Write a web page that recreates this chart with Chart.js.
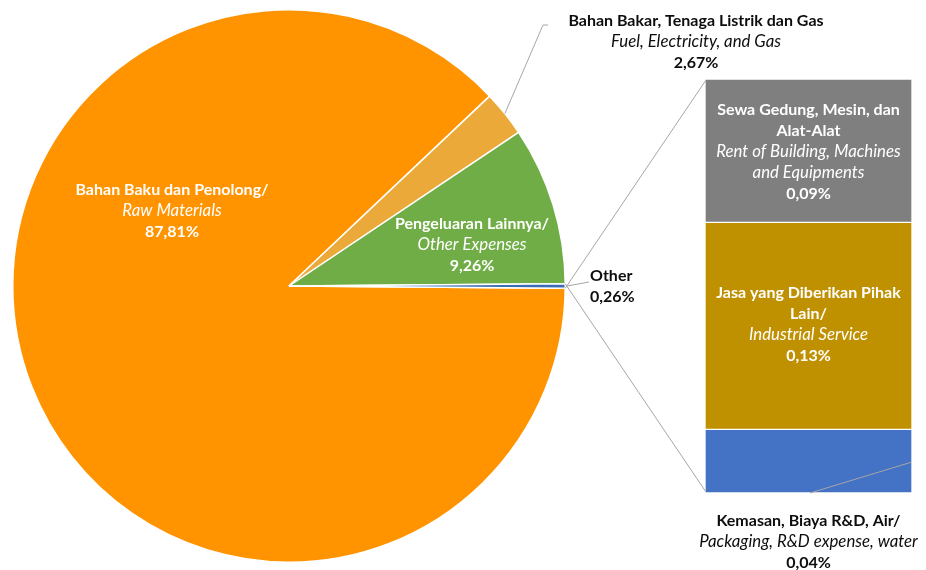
<!DOCTYPE html>
<html>
<head>
<meta charset="utf-8">
<script src="https://cdn.jsdelivr.net/npm/chart.js@4"></script>
<style>
  html, body { margin: 0; padding: 0; background: #ffffff; }
  #wrap { position: relative; width: 926px; height: 570px; overflow: hidden; }
  #barBox { position: absolute; left: 705px; top: 79px; width: 207px; height: 414px; z-index: 1; }
  #pieBox { position: absolute; left: 0; top: 0; width: 926px; height: 570px; z-index: 2; }
</style>
</head>
<body>
<div id="wrap">
  <div id="barBox"><canvas id="bar" width="207" height="414"></canvas></div>
  <div id="pieBox"><canvas id="pie" width="926" height="570"></canvas></div>
</div>
<script>
// ---- data ----
const pieCategories = ["Bahan Baku dan Penolong/ Raw Materials", "Bahan Bakar, Tenaga Listrik dan Gas / Fuel, Electricity, and Gas", "Pengeluaran Lainnya/ Other Expenses", "Other"];
const pieValues = [87.81, 2.67, 9.26, 0.26];
const pieColors = ["#FF9400", "#EBA93A", "#70AD47", "#3A6BB5"];

const barCategories = ["Kemasan, Biaya R&D, Air/ Packaging, R&D expense, water", "Jasa yang Diberikan Pihak Lain/ Industrial Service", "Sewa Gedung, Mesin, dan Alat-Alat / Rent of Building, Machines and Equipments"];
const barValues = [0.04, 0.13, 0.09];
const barColors = ["#4472C4", "#BF9000", "#7F7F7F"];

const pieLabelText = [
  ["Bahan Baku dan Penolong/", "Raw Materials", "87,81%"],
  ["Bahan Bakar, Tenaga Listrik dan Gas", "Fuel, Electricity, and Gas", "2,67%"],
  ["Pengeluaran Lainnya/", "Other Expenses", "9,26%"],
  ["Other", "0,26%"]
];
const barLabelText = [
  ["Kemasan, Biaya R&D, Air/", "Packaging, R&D expense, water", "0,04%"],
  ["Jasa yang Diberikan Pihak", "Lain/", "Industrial Service", "0,13%"],
  ["Sewa Gedung, Mesin, dan", "Alat-Alat", "Rent of Building, Machines", "and Equipments", "0,09%"]
];
const pieItalic = [[1], [1], [1], []];
const barItalic = [[1], [2], [2, 3]];

const FONT = "Lato, 'Open Sans', sans-serif";
const FS = 16;
const FS_IT = 16.8;
const LH = 21;

// ---- bar chart ----
const barChart = new Chart(document.getElementById('bar'), {
  type: 'bar',
  data: {
    labels: [''],
    datasets: barValues.map((v, i) => ({
      label: barCategories[i],
      data: [v],
      backgroundColor: barColors[i],
      borderColor: '#ffffff',
      borderWidth: 1,
      borderSkipped: false,
      barPercentage: 1,
      categoryPercentage: 1
    }))
  },
  options: {
    responsive: false,
    animation: false,
    layout: { padding: 0 },
    plugins: { legend: { display: false }, tooltip: { enabled: false } },
    scales: {
      x: { stacked: true, display: false },
      y: { stacked: true, display: false, min: 0, max: 0.26 }
    }
  }
});

// ---- helpers ----
function drawLines(ctx, lines, italicIdx, cx, y0, color, align) {
  ctx.fillStyle = color;
  ctx.textAlign = align || 'center';
  ctx.textBaseline = 'middle';
  lines.forEach((t, i) => {
    const it = italicIdx.includes(i);
    ctx.font = it ? ('italic 400 ' + FS_IT + 'px ' + FONT) : ('bold ' + FS + 'px ' + FONT);
    ctx.fillText(t, cx, y0 + i * LH);
  });
}

const overlay = {
  id: 'overlay',
  afterDraw(chart) {
    const ctx = chart.ctx;
    const meta = chart.getDatasetMeta(0);
    const ox = 705, oy = 79;
    const bmTop = barChart.getDatasetMeta(2).data[0];
    const bmBot = barChart.getDatasetMeta(0).data[0];
    const barLeft = ox + bmTop.x - bmTop.width / 2 + 1;
    const barRight = ox + bmTop.x + bmTop.width / 2 - 1;
    const barTop = oy + bmTop.y + 1;
    const barBottom = oy + bmBot.base - 1;
    const barCx = ox + bmTop.x;

    const a = meta.data[3];
    const R = a.outerRadius;
    ctx.save();
    ctx.strokeStyle = '#A6A6A6';
    ctx.lineWidth = 1;
    ctx.beginPath();
    ctx.moveTo(a.x + R * Math.cos(a.startAngle), a.y + R * Math.sin(a.startAngle));
    ctx.lineTo(barLeft, barBottom);
    ctx.moveTo(a.x + R * Math.cos(a.endAngle), a.y + R * Math.sin(a.endAngle));
    ctx.lineTo(barLeft, barTop);
    ctx.stroke();

    const f = meta.data[1];
    const fm = (f.startAngle + f.endAngle) / 2;
    ctx.beginPath();
    ctx.moveTo(a.x + R * Math.cos(fm), a.y + R * Math.sin(fm));
    ctx.lineTo(543, 25);
    ctx.lineTo(548, 25);
    const om = (a.startAngle + a.endAngle) / 2;
    ctx.moveTo(a.x + (R + 2) * Math.cos(om), a.y + (R + 2) * Math.sin(om));
    ctx.lineTo(589, 282);
    ctx.moveTo(810, 493);
    ctx.lineTo(barRight, oy + bmBot.y + 33);
    ctx.stroke();
    ctx.restore();

    drawLines(ctx, pieLabelText[0], pieItalic[0], 172, 190, '#ffffff');
    drawLines(ctx, pieLabelText[1], pieItalic[1], 696, 21, '#0D0D0D');
    drawLines(ctx, pieLabelText[2], pieItalic[2], 472, 224, '#ffffff');
    drawLines(ctx, pieLabelText[3], pieItalic[3], 590, 276, '#0D0D0D', 'left');

    drawLines(ctx, barLabelText[2], barItalic[2], barCx, 110, '#ffffff');
    drawLines(ctx, barLabelText[1], barItalic[1], barCx, 293, '#ffffff');
    drawLines(ctx, barLabelText[0], barItalic[0], barCx, 521, '#0D0D0D');
  }
};

// ---- pie chart ----
new Chart(document.getElementById('pie'), {
  type: 'pie',
  data: {
    labels: pieCategories,
    datasets: [{
      data: pieValues,
      backgroundColor: pieColors,
      borderColor: '#ffffff',
      borderWidth: 1.5
    }]
  },
  options: {
    responsive: false,
    animation: false,
    rotation: 90 + 0.47,
    layout: { padding: { left: 12, right: 360, top: 9, bottom: 7 } },
    plugins: { legend: { display: false }, tooltip: { enabled: false } }
  },
  plugins: [overlay]
});
</script>
</body>
</html>
